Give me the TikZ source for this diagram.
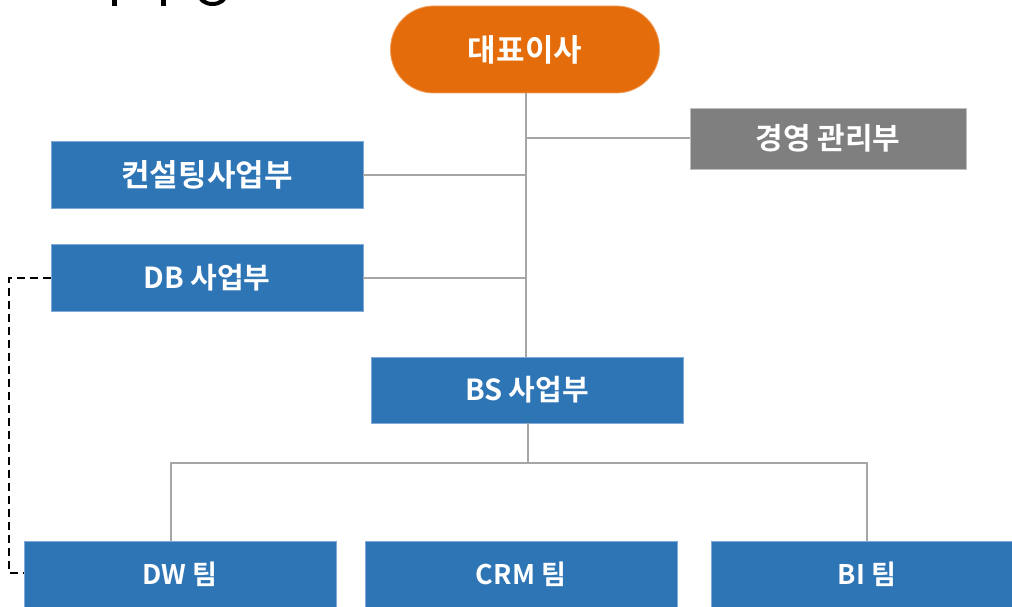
\documentclass[tikz,border=0pt]{standalone}
\usepackage{fontspec}
\setmainfont{Noto Sans CJK KR}[BoldFont={Noto Sans CJK KR Bold}]
\definecolor{ceoorange}{HTML}{E46C0A}
\definecolor{ceoborder}{HTML}{F0A060}
\definecolor{boxblue}{HTML}{2E75B6}
\definecolor{boxborder}{HTML}{7FAAD8}
\definecolor{mgray}{HTML}{7F7F7F}
\definecolor{mgrayborder}{HTML}{BFBFBF}
\definecolor{linegray}{HTML}{A6A6A6}
\tikzset{
  unitbox/.style={rectangle, fill=boxblue, draw=boxborder, line width=0.8pt,
    minimum width=312pt, minimum height=67pt, inner sep=0pt,
    text=white, font=\bfseries\fontsize{29}{32}\selectfont},
  teambox/.style={unitbox, font=\bfseries\fontsize{27}{30}\selectfont},
  conn/.style={draw=linegray, line width=2pt},
  dashconn/.style={draw=black, line width=2pt, dash pattern=on 8pt off 5pt}
}
\begin{document}
\begin{tikzpicture}[x=1pt,y=-1pt]
\useasboundingbox (0,0) rectangle (1012,607);
\fill[white] (0,0) rectangle (1012,607);
% cut-off title fragments at top-left
\fill[black] (112,-2) rectangle (117,6);
\fill[black] (161,-2) rectangle (166,6);
\draw[black, line width=4pt] (212.5,-6) ellipse [x radius=13.5pt, y radius=10pt];

\node[rectangle, rounded corners=43pt, fill=ceoorange, draw=ceoborder, line width=0.8pt,
  minimum width=269pt, minimum height=87pt, inner sep=0pt, text=white,
  font=\bfseries\fontsize{31}{34}\selectfont] (ceo) at (525,49.5) {대표이사};
\node[rectangle, fill=mgray, draw=mgrayborder, line width=0.8pt,
  minimum width=276pt, minimum height=61pt, inner sep=0pt, text=white,
  font=\bfseries\fontsize{30}{33}\selectfont] (mgmt) at (828,138.5) {경영 관리부};
\node[unitbox, font=\bfseries\fontsize{31}{34}\selectfont] (cons) at (207,174.5) {컨설팅사업부};
\node[unitbox] (db) at (207,277.5) {DB 사업부};
\node[unitbox, minimum height=66pt] (bs) at (527,390) {BS 사업부};
\node[teambox] (dw) at (180,574.5) {DW 팀};
\node[teambox] (crm) at (521,574.5) {CRM 팀};
\node[teambox] (bi) at (867,574.5) {BI 팀};

\coordinate (trunk) at (526,0);
\coordinate (bar) at (528,463);
\coordinate (dwtop) at (171,541);

\draw[conn] (ceo.south -| trunk) -- (bs.north -| trunk);
\draw[conn] (mgmt.west -| trunk) -- (mgmt.west);
\draw[conn] (cons.east) -- (cons.east -| trunk);
\draw[conn] (db.east) -- (db.east -| trunk);
\draw[conn] (bs.south -| bar) -- (bar);
\draw[conn] (dwtop) |- (bar) -| (bi.north);

\draw[dashconn] (db.west) -- ++(-42,0) |- ([yshift=2pt]dw.west);
\end{tikzpicture}
\end{document}
